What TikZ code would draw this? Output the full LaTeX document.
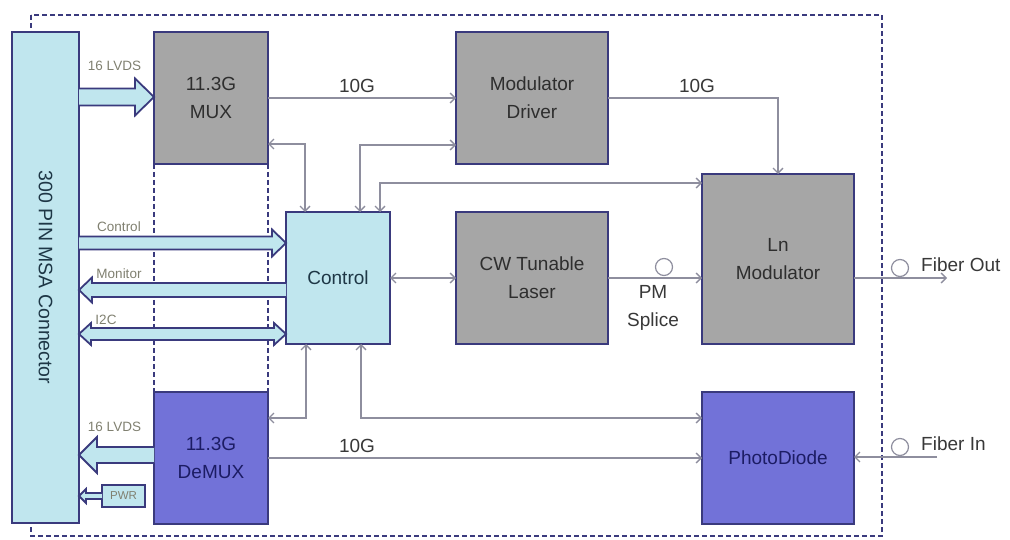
\documentclass[tikz,border=0pt]{standalone}
\usepackage{fontspec}
\setmainfont{Liberation Sans}
\usetikzlibrary{arrows.meta,calc}
\definecolor{cyanfill}{RGB}{192,230,238}
\definecolor{grayfill}{RGB}{166,166,166}
\definecolor{bluefill}{RGB}{114,114,216}
\definecolor{navy}{RGB}{58,58,125}
\definecolor{wirec}{RGB}{142,142,158}
\definecolor{lblc}{RGB}{128,128,112}
\definecolor{cyantext}{RGB}{30,55,70}
\definecolor{bluetext}{RGB}{28,28,100}
\newcommand\fatRight[5]{\draw[fatarrow] ($(#1)+(0,-#3)$) -- ($(#2)+(-#5,-#3)$) -- ($(#2)+(-#5,-#4)$) -- (#2) -- ($(#2)+(-#5,#4)$) -- ($(#2)+(-#5,#3)$) -- ($(#1)+(0,#3)$);}
\newcommand\fatLeft[5]{\draw[fatarrow] ($(#1)+(0,-#3)$) -- ($(#2)+(#5,-#3)$) -- ($(#2)+(#5,-#4)$) -- (#2) -- ($(#2)+(#5,#4)$) -- ($(#2)+(#5,#3)$) -- ($(#1)+(0,#3)$);}
\newcommand\fatBoth[5]{\draw[fatarrow] (#1) -- ($(#1)+(#5,-#4)$) -- ($(#1)+(#5,-#3)$) -- ($(#2)+(-#5,-#3)$) -- ($(#2)+(-#5,-#4)$) -- (#2) -- ($(#2)+(-#5,#4)$) -- ($(#2)+(-#5,#3)$) -- ($(#1)+(#5,#3)$) -- ($(#1)+(#5,#4)$) -- cycle;}
\tikzset{
  mybarb/.tip={Straight Barb[length=5pt,width=10pt]},
  box/.style={draw=navy, line width=2.2pt, outer sep=0pt, inner sep=0pt, align=center, font=\fontsize{19}{28}\selectfont},
  graybox/.style={box, fill=grayfill, text=black!82},
  cyanbox/.style={box, fill=cyanfill, text=cyantext},
  bluebox/.style={box, fill=bluefill, text=bluetext},
  wire/.style={draw=wirec, line width=1.3pt},
  fatarrow/.style={draw=navy, fill=cyanfill, line width=1.8pt, line join=miter},
  smalllbl/.style={font=\fontsize{13.5}{15}\selectfont, text=lblc, inner sep=0pt},
  biglbl/.style={font=\fontsize{19}{28}\selectfont, text=black!78, inner sep=0pt, align=center},
  splice/.style={circle, draw=wirec, line width=1.2pt, minimum size=17pt, inner sep=0pt},
  framedash/.style={draw=navy, line width=2pt, dash pattern=on 5pt off 3pt},
}
\begin{document}
\begin{tikzpicture}[x=1pt,y=-1pt]
\useasboundingbox (0,0) rectangle (1010,540);
% outer frame
\draw[framedash] (31,15) rectangle (882,536);
% boxes
\node[cyanbox, minimum width=67, minimum height=491] (conn) at (45.5,277.5) {};
\node[rotate=-90, font=\fontsize{19.5}{22}\selectfont, text=cyantext] (connlbl) at (conn.center) {300 PIN MSA Connector};
\node[graybox, minimum width=114, minimum height=132] (mux) at (211,98) {11.3G\\MUX};
\node[bluebox, minimum width=114, minimum height=132] (dmx) at (211,458) {11.3G\\DeMUX};
\draw[framedash] (mux.south west) -- (dmx.north west);
\draw[framedash] (mux.south east) -- (dmx.north east);
\node[graybox, minimum width=152, minimum height=132] (drv) at (532,98) {Modulator\\Driver};
\node[graybox, minimum width=152, minimum height=132] (las) at (532,278) {CW Tunable\\Laser};
\node[graybox, minimum width=152, minimum height=170] (lnm) at (778,259) {Ln\\Modulator};
\node[bluebox, minimum width=152, minimum height=132] (pd) at (778,458) {PhotoDiode};
\node[cyanbox, minimum width=104, minimum height=132] (ctl) at (338,278) {Control};
\node[cyanbox, minimum width=43, minimum height=22, line width=1.5pt, font=\fontsize{11.5}{13}\selectfont, text=lblc] (pwr) at (123.5,496) {PWR};
% thin wires
\draw[wire, -mybarb] (mux.east) -- (drv.west);
\node[biglbl] (g1) at (357,86) {10G};
\draw[wire, -mybarb] (drv.east) -| (lnm.north);
\node[biglbl] (g2) at (697,86) {10G};
\draw[wire, mybarb-mybarb] (mux.east |- 0,144) -| (ctl.north -| 305,0);
\draw[wire, mybarb-mybarb] (ctl.north -| 360,0) |- (drv.west |- 0,145);
\draw[wire, mybarb-mybarb] (ctl.north -| 380,0) |- (lnm.west |- 0,183);
\draw[wire, mybarb-mybarb] (ctl.east) -- (las.west);
\draw[wire, -mybarb] (las.east) -- (lnm.west |- las.east);
\node[splice] (pm) at (664,267) {};
\node[biglbl] (pmlbl) at (653,308) {PM\\Splice};
\draw[wire, mybarb-mybarb] (ctl.south -| 306,0) |- (dmx.east |- 0,418);
\draw[wire, mybarb-mybarb] (ctl.south -| 361,0) |- (pd.west |- 0,418);
\draw[wire, -mybarb] (dmx.east) -- (pd.west);
\node[biglbl] (g3) at (357,446) {10G};
\coordinate (fo) at (947,278);
\draw[wire, -mybarb] (lnm.east |- fo) -- (fo);
\node[splice] (c1) at (900,268) {};
\node[biglbl, anchor=west] (folbl) at (921,265) {Fiber Out};
\coordinate (fi) at (937,457);
\draw[wire, -mybarb] (fi) -- (pd.east |- fi);
\node[splice] (c2) at (900,447) {};
\node[biglbl, anchor=west] (filbl) at (921,444) {Fiber In};
% fat arrows
\coordinate (a1s) at (conn.east |- 0,97);
\coordinate (a1e) at (mux.west |- 0,97);
\fatRight{a1s}{a1e}{8.5}{18.5}{19}
\node[smalllbl] (l1) at (114.5,66) {16 LVDS};
\coordinate (a2s) at (conn.east |- 0,243);
\coordinate (a2e) at (ctl.west |- 0,243);
\fatRight{a2s}{a2e}{6.5}{13.5}{14}
\node[smalllbl] (l2) at (119,227) {Control};
\coordinate (a3s) at (ctl.west |- 0,290);
\coordinate (a3e) at (conn.east |- 0,290);
\fatLeft{a3s}{a3e}{7}{12.5}{13}
\node[smalllbl] (l3) at (119,274) {Monitor};
\coordinate (a4s) at (conn.east |- 0,334);
\coordinate (a4e) at (ctl.west |- 0,334);
\fatBoth{a4s}{a4e}{6}{11}{12}
\node[smalllbl] (l4) at (106,320) {I2C};
\coordinate (a5s) at (dmx.west |- 0,455);
\coordinate (a5e) at (conn.east |- 0,455);
\fatLeft{a5s}{a5e}{8}{18}{18}
\node[smalllbl] (l5) at (114.5,427) {16 LVDS};
\coordinate (a6e) at (conn.east |- pwr.west);
\fatLeft{pwr.west}{a6e}{3}{7}{7}
\end{tikzpicture}
\end{document}
